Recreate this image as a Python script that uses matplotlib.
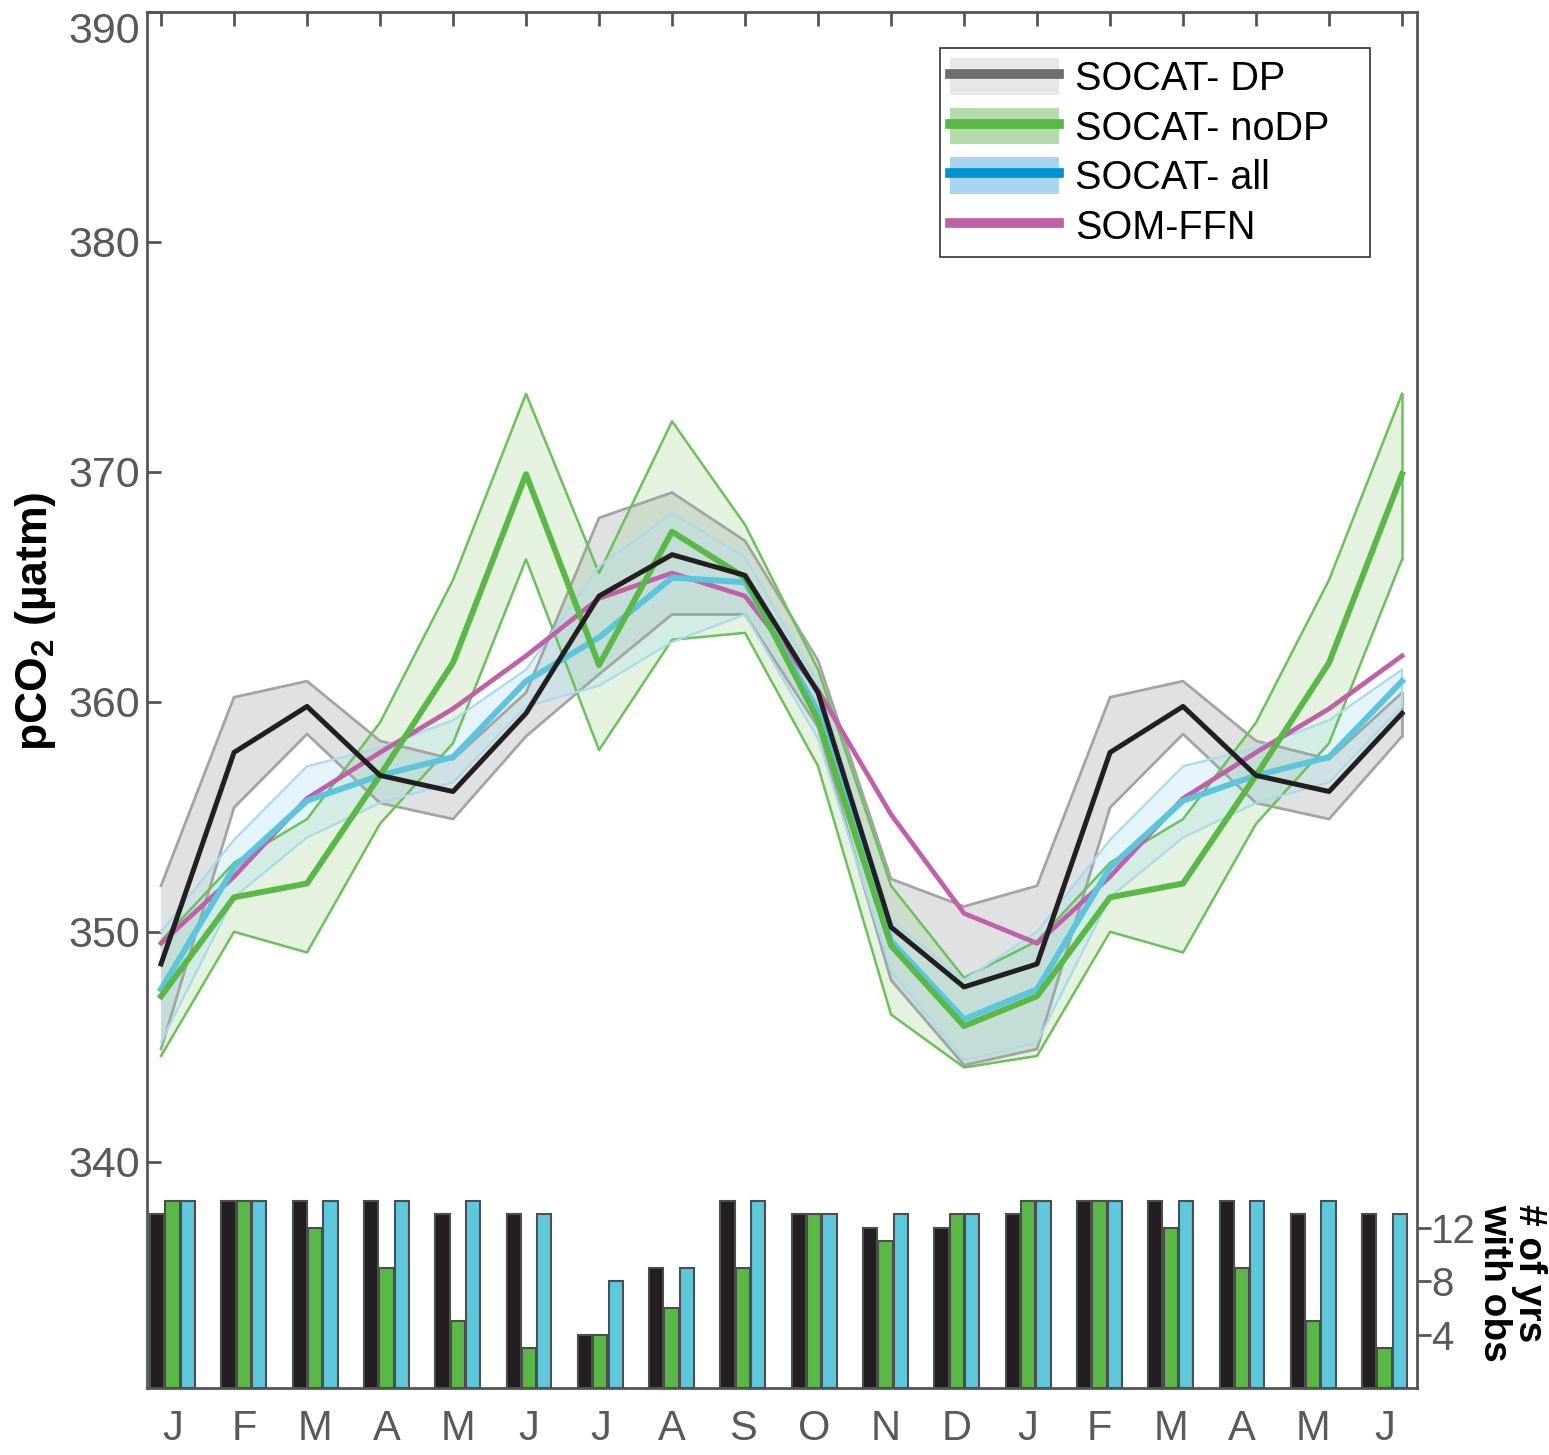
import matplotlib
matplotlib.use('Agg')
import matplotlib.pyplot as plt
import numpy as np
from matplotlib.patches import Patch
from matplotlib.lines import Line2D

plt.rcParams['font.family'] = ['Liberation Sans', 'DejaVu Sans']
plt.rcParams['mathtext.fontset'] = 'custom'
plt.rcParams['mathtext.rm'] = 'Liberation Sans'
plt.rcParams['mathtext.bf'] = 'Liberation Sans:bold'

months = ['J', 'F', 'M', 'A', 'M', 'J', 'J', 'A', 'S', 'O', 'N', 'D',
          'J', 'F', 'M', 'A', 'M', 'J']

# SOCAT- DP
dp_mean = [348.6, 357.8, 359.8, 356.8, 356.1, 359.5, 364.6, 366.4, 365.5, 360.4, 350.2, 347.6,
           348.6, 357.8, 359.8, 356.8, 356.1, 359.5]
dp_hi = [352.0, 360.2, 360.9, 358.3, 357.5, 360.4, 368.0, 369.1, 367.0, 361.8, 352.3, 351.1,
         352.0, 360.2, 360.9, 358.3, 357.5, 360.4]
dp_lo = [344.9, 355.4, 358.6, 355.6, 354.9, 358.5, 361.2, 363.8, 363.8, 358.9, 347.9, 344.2,
         344.9, 355.4, 358.6, 355.6, 354.9, 358.5]

# SOCAT- noDP
nodp_mean = [347.2, 351.5, 352.1, 356.8, 361.7, 369.9, 361.6, 367.4, 365.4, 359.2, 349.4, 345.9,
             347.2, 351.5, 352.1, 356.8, 361.7, 369.9]
nodp_hi = [349.6, 353.0, 354.9, 359.1, 365.3, 373.4, 365.6, 372.2, 367.7, 361.4, 352.0, 348.0,
           349.6, 353.0, 354.9, 359.1, 365.3, 373.4]
nodp_lo = [344.6, 350.0, 349.1, 354.7, 358.2, 366.2, 357.9, 362.7, 363.0, 357.2, 346.4, 344.1,
           344.6, 350.0, 349.1, 354.7, 358.2, 366.2]

# SOCAT- all
all_mean = [347.5, 352.8, 355.7, 356.8, 357.6, 360.9, 362.8, 365.4, 365.2, 359.6, 349.6, 346.2,
            347.5, 352.8, 355.7, 356.8, 357.6, 360.9]
all_hi = [350.0, 354.0, 357.2, 358.0, 359.2, 361.4, 365.9, 368.2, 366.3, 360.8, 350.5, 347.9,
          350.0, 354.0, 357.2, 358.0, 359.2, 361.4]
all_lo = [345.2, 351.5, 354.1, 355.6, 356.5, 359.8, 360.7, 362.6, 363.8, 358.4, 348.3, 344.4,
          345.2, 351.5, 354.1, 355.6, 356.5, 359.8]

# SOM-FFN
ffn = [349.5, 352.4, 355.8, 357.8, 359.7, 362.0, 364.5, 365.6, 364.6, 360.5, 355.1, 350.8,
       349.5, 352.4, 355.8, 357.8, 359.7, 362.0]

# number of years with observations
n_dp = [13, 14, 14, 14, 13, 13, 4, 9, 14, 13, 12, 12, 13, 14, 14, 14, 13, 13]
n_nodp = [14, 14, 12, 9, 5, 3, 4, 6, 9, 13, 11, 13, 14, 14, 12, 9, 5, 3]
n_all = [14, 14, 14, 14, 14, 13, 8, 9, 14, 13, 13, 13, 14, 14, 14, 14, 14, 13]

grey_txt = '#58595b'
spine_c = '#555555'

fig = plt.figure(figsize=(15.49, 14.55), dpi=100)
rect = [0.0949, 0.04605, 0.8199, 0.9457]
ax = fig.add_axes(rect)
x = np.arange(len(months))

# bands (fill with alpha, outlines opaque)
ax.fill_between(x, dp_lo, dp_hi, facecolor='#bcbec0', alpha=0.45, lw=0, zorder=1)
ax.fill_between(x, nodp_lo, nodp_hi, facecolor='#a6d497', alpha=0.3, lw=0, zorder=1)
ax.fill_between(x, all_lo, all_hi, facecolor='#b4e2f0', alpha=0.35, lw=0, zorder=1)
for lo, hi, c, w in [(dp_lo, dp_hi, '#a3a4a6', 2.0),
                     (nodp_lo, nodp_hi, '#6cc25a', 1.8),
                     (all_lo, all_hi, '#aadbe8', 1.6)]:
    ax.plot(x, lo, color=c, lw=w, zorder=2)
    ax.plot(x, hi, color=c, lw=w, zorder=2)
    ax.plot([x[-1], x[-1]], [lo[-1], hi[-1]], color=c, lw=w, zorder=2)

ax.plot(x, ffn, color='#c060a8', lw=3.4, zorder=3)
ax.plot(x, all_mean, color='#5bc5de', lw=4.3, zorder=4)
ax.plot(x, nodp_mean, color='#5ab946', lw=4.3, zorder=5)
ax.plot(x, dp_mean, color='#231f20', lw=3.6, zorder=6)

ax.set_xlim(-0.192, 17.205)
ax.set_ylim(330.16, 390)
ax.set_yticks([340, 350, 360, 370, 380, 390])
ax.tick_params(axis='y', direction='in', length=10, width=2, color=spine_c,
               labelsize=31, labelcolor=grey_txt, pad=5)
ax.set_xticks(x)
ax.tick_params(axis='x', direction='in', length=10, width=2, color=spine_c,
               bottom=False, top=True, labelbottom=False, labeltop=False)
for s in ax.spines.values():
    s.set_color(spine_c)
    s.set_linewidth(2)
ax.get_yticklabels()[-1].set_verticalalignment('top')

ax.text(-0.088, 0.557, r'pCO$_\mathbf{2}$ (µatm)', transform=ax.transAxes, rotation=90,
        ha='center', va='center', fontsize=32, fontweight='bold')

# legend
h_dp = (Patch(facecolor='#e6e7e8', edgecolor='none'), Line2D([], [], color='#6d6e70', lw=7))
h_nodp = (Patch(facecolor='#b3dcaa', edgecolor='none'), Line2D([], [], color='#5ab946', lw=7))
h_all = (Patch(facecolor='#a9d5f0', edgecolor='none'), Line2D([], [], color='#0093d0', lw=7))
h_ffn = Line2D([], [], color='#c060a8', lw=7)
leg = ax.legend([h_dp, h_nodp, h_all, h_ffn],
                ['SOCAT- DP', 'SOCAT- noDP', 'SOCAT- all', 'SOM-FFN'],
                loc='upper left', bbox_to_anchor=(0.6244, 0.822, 0.3386, 0.1518),
                mode='expand', borderaxespad=0,
                fontsize=28.5, handlelength=2.75, handleheight=1.05, handletextpad=0.42,
                labelspacing=0.25, borderpad=0.25, fancybox=False, framealpha=1)
leg.get_frame().set_edgecolor('#333333')
leg.get_frame().set_linewidth(1.2)

# bars
bax = fig.add_axes(rect)
bax.patch.set_visible(False)
for s in bax.spines.values():
    s.set_visible(False)
bw = 0.2
off = 0.215
bax.bar(x - off, n_dp, bw, color='#231f20', edgecolor='#4d4d4d', lw=1.5)
bax.bar(x, n_nodp, bw, color='#5ab946', edgecolor='#4d4d4d', lw=1.5)
bax.bar(x + off, n_all, bw, color='#5ec8dc', edgecolor='#4d4d4d', lw=1.5)
bax.set_xlim(-0.358, 17.455)
bax.set_ylim(0, 103.1)
bax.set_xticks(x)
bax.set_xticklabels(months)
bax.tick_params(axis='x', length=0, pad=15, labelsize=30, labelcolor=grey_txt)
bax.yaxis.tick_right()
bax.set_yticks([4, 8, 12])
bax.tick_params(axis='y', direction='out', length=10, width=2, color=spine_c,
                labelsize=29, labelcolor=grey_txt, pad=0)
bax.text(1.0745, 0.0763, '# of yrs\nwith obs', transform=bax.transAxes, rotation=270,
         ha='center', va='center', multialignment='left', fontsize=28,
         fontweight='bold', linespacing=0.95)

fig.savefig('out.png', dpi=100)
